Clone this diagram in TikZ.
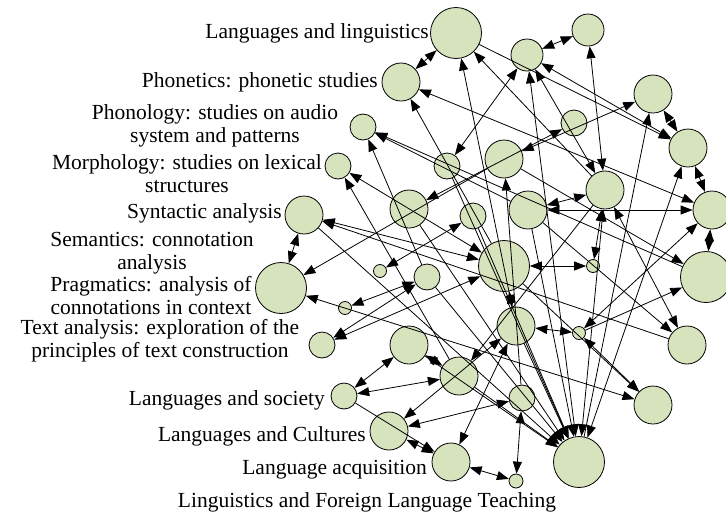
\documentclass[tikz,border=0pt]{standalone}
\usepackage{fontspec}
\setmainfont{Liberation Serif}
\usetikzlibrary{arrows.meta}
\definecolor{nodefill}{RGB}{215,227,188}
\begin{document}
\begin{tikzpicture}[x=1pt,y=-1pt,
  circ/.style={circle,draw=black,line width=0.8pt,fill=nodefill,inner sep=0pt},
  c6/.style={circ,minimum size=13pt},
  c13/.style={circ,minimum size=26pt},
  c19/.style={circ,minimum size=38pt},
  c25/.style={circ,minimum size=51pt},
  lab/.style={font=\fontsize{21.5}{23}\selectfont,inner sep=0pt,align=center},
  arr/.style={line width=0.8pt,-{Triangle[length=12pt,width=9pt]}},
  dbl/.style={line width=0.8pt,{Triangle[length=12pt,width=9pt]}-{Triangle[length=12pt,width=9pt]}}]
\useasboundingbox (0,0) rectangle (726,515);
% circles
\node[c25] (A) at (456,33) {};
\node[c19] (B) at (401,82) {};
\node[c13] (C) at (363,127) {};
\node[c13] (D) at (338,166) {};
\node[c13] (E) at (447,166) {};
\node[c19] (F) at (504,159) {};
\node[c19,minimum size=32pt] (G) at (527,55) {};
\node[c19,minimum size=32pt] (H) at (588,30) {};
\node[c13] (I) at (574,123) {};
\node[c19] (J) at (653,94) {};
\node[c19] (K) at (688,148) {};
\node[c19] (M) at (605,190) {};
\node[c19] (N) at (528,210) {};
\node[c19] (O) at (712,210) {};
\node[c25] (P) at (706,277) {};
\node[c25] (Q) at (504,266) {};
\node[c6] (R) at (593,266) {};
\node[c19] (S) at (409,209) {};
\node[c13] (T) at (473,216) {};
\node[c19] (U) at (304,215) {};
\node[c25] (V) at (281,288) {};
\node[c6] (W) at (380,271) {};
\node[c13] (X) at (427,277) {};
\node[c6] (Y) at (345,308) {};
\node[c13] (Z) at (322,345) {};
\node[c19] (AA) at (409,345) {};
\node[c19] (AB) at (516,326) {};
\node[c6] (AC) at (579,333) {};
\node[c19] (AD) at (459,376) {};
\node[c13] (AE) at (344,396) {};
\node[c13] (AF) at (522,398) {};
\node[c19] (AG) at (389,431) {};
\node[c19] (AH) at (451,462) {};
\node[c6,minimum size=14pt] (AI) at (516,481) {};
\node[c25] (AJ) at (579,462) {};
\node[c19] (AK) at (653,405) {};
\node[c19] (AL) at (687,345) {};
% labels
\node[lab,anchor=east] (tA) at (429,33) {Languages and linguistics};
\node[lab,anchor=east] (tB) at (378,82) {Phonetics: phonetic studies};
\node[lab] (tC) at (215,126) {Phonology: studies on audio\\system and patterns};
\node[lab] (tD) at (187,174) {Morphology: studies on lexical\\structures};
\node[lab,anchor=east] (tU) at (282,213) {Syntactic analysis};
\node[lab] (tV) at (152,253) {Semantics: connotation\\analysis};
\node[lab] (tY) at (151,296) {Pragmatics: analysis of\\connotations in context};
\node[lab] (tZ) at (160,341) {Text analysis: exploration of the\\principles of text construction};
\node[lab,anchor=east] (tAE) at (325,400) {Languages and society};
\node[lab,anchor=east] (tAG) at (366,436) {Languages and Cultures};
\node[lab,anchor=east] (tAH) at (427,470) {Language acquisition};
\node[lab] (tAI) at (367,502) {Linguistics and Foreign Language Teaching};
% connectors
\draw[dbl] (A) -- (B);
\draw[dbl] (G) -- (H);
\draw[dbl] (H) -- (M);
\draw[arr] (AB) -- (A);
\draw[arr] (M) -- (A);
\draw[arr] (A) -- (K);
\draw[dbl] (G) -- (K);
\draw[dbl] (E) -- (G);
\draw[dbl] (G) -- (AJ);
\draw[dbl] (G) -- (M);
\draw[dbl] (M) -- (AL);
\draw[dbl] (M) -- (R);
\draw[dbl] (J) -- (K);
\draw[dbl] (K) -- (O);
\draw[dbl] (O) -- (P);
\draw[dbl] (F) -- (J);
\draw[dbl] (B) -- (O);
\draw[dbl] (K) -- (AJ);
\draw[arr] (AJ) -- (J);
\draw[dbl] (U) -- (V);
\draw[dbl] (W) -- (T);
\draw[dbl] (S) -- (I);
\draw[dbl] (U) -- (Q);
\draw[arr] (Q) -- (B);
\draw[arr] (X) -- (C);
\draw[arr] (P) -- (C);
\draw[arr] (N) -- (C);
\draw[arr] (AD) -- (D);
\draw[dbl] (D) -- (Q);
\draw[dbl] (Y) -- (X);
\draw[dbl] (Z) -- (X);
\draw[arr] (F) -- (V);
\draw[dbl] (V) -- (AK);
\draw[arr] (AL) -- (U);
\draw[dbl] (N) -- (M);
\draw[dbl] (N) -- (O);
\draw[dbl] (Q) -- (R);
\draw[dbl] (AB) -- (AC);
\draw[dbl] (AC) -- (O);
\draw[dbl] (AC) -- (AK);
\draw[dbl] (Q) -- (AB);
\draw[dbl] (AA) -- (AD);
\draw[dbl] (AE) -- (AA);
\draw[dbl] (AE) -- (AD);
\draw[dbl] (AG) -- (AF);
\draw[dbl] (AG) -- (AH);
\draw[dbl] (AH) -- (AI);
\draw[dbl] (AF) -- (AI);
\draw[arr] (AE) -- (AH);
\draw[dbl] (AB) -- (AG);
\draw[dbl] (AB) -- (AH);
\draw[dbl] (Z) -- (Q);
\draw[arr] (AC) -- (P);
\draw[arr] (F) -- (P);
\draw[arr] (Q) -- (AK);
\draw[arr] (N) -- (AL);
\draw[arr] (M) -- (AD);
\draw[arr] (AF) -- (F);
\draw[arr] (U) -- (AJ);
\draw[arr] (X) -- (AJ);
\draw[arr] (S) -- (AJ);
\draw[arr] (E) -- (AJ);
\draw[arr] (T) -- (AJ);
\draw[arr] (N) -- (AJ);
\draw[arr] (AB) -- (AJ);
\draw[arr] (AD) -- (AJ);
\draw[arr] (AA) -- (AJ);
\draw[dbl] (AJ) -- (M);
\end{tikzpicture}
\end{document}
